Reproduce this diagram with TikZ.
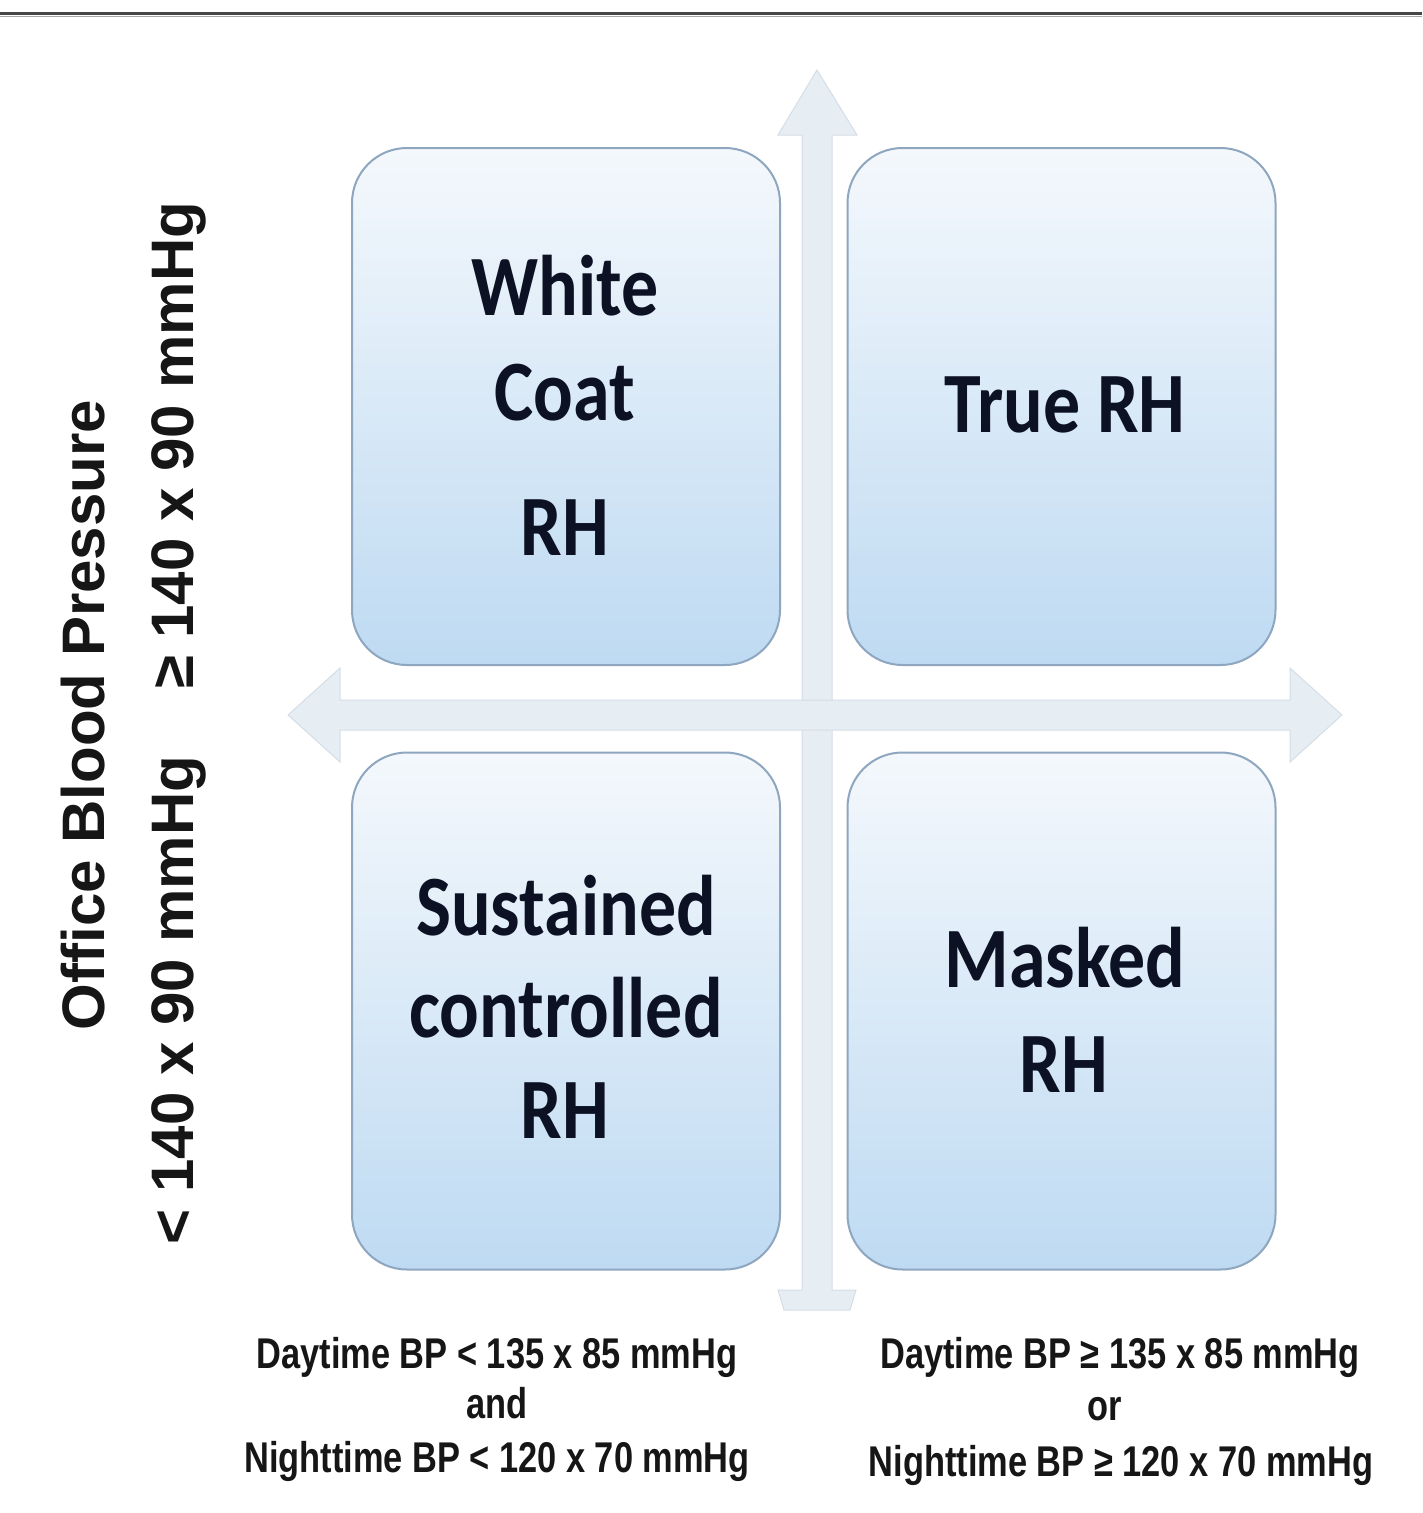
\documentclass[tikz,border=0pt]{standalone}
\usepackage{fontspec}
\setmainfont{Liberation Sans}
\newfontfamily\boxfont{Carlito}
\definecolor{boxtop}{HTML}{F4F8FC}
\definecolor{boxbot}{HTML}{BEDAF2}
\definecolor{boxedge}{HTML}{8EA6BF}
\definecolor{arrowfill}{HTML}{E6EDF3}
\definecolor{arrowedge}{HTML}{D5DEE7}
\definecolor{labeltext}{HTML}{0C1224}
\definecolor{axistext}{HTML}{161616}
\tikzset{
  quad/.style={draw=boxedge, line width=2pt, rounded corners=55pt,
    top color=boxtop, bottom color=boxbot, minimum width=428pt, minimum height=517pt, inner sep=0pt},
  biglabel/.style={anchor=base, text=labeltext, inner sep=0pt,
    font=\boxfont\bfseries\fontsize{86}{90}\selectfont},
  axislabel/.style={anchor=base, text=axistext, inner sep=0pt, rotate=90,
    font=\bfseries\fontsize{60}{64}\selectfont},
  condlabel/.style={anchor=base, text=axistext, inner sep=0pt,
    font=\bfseries\fontsize{43}{46}\selectfont},
  bigarrow/.style={fill=arrowfill, draw=arrowedge, line width=1pt, line join=miter}
}
\newcommand{\sq}[1]{\scalebox{0.86}[1]{#1}}
\newcommand{\sqc}[1]{\scalebox{0.8}[1]{#1}}
\begin{document}
\begin{tikzpicture}[x=1pt,y=-1pt]
\useasboundingbox (0,0) rectangle (1422,1513);
\fill[white] (0,0) rectangle (1422,1513);
% top rule
\draw[line width=3pt, color=black!72] (0,13.5) -- (1422,13.5);
\draw[line width=1.2pt, color=black!35] (0,16.5) -- (1422,16.5);
% vertical arrow
\draw[bigarrow] (802,1290) -- (802,135) -- (778,135) -- (817,70) -- (857,135) -- (832,135) -- (832,1290)
  -- (856,1290) -- (850,1310) -- (784,1310) -- (778,1290) -- cycle;
% horizontal arrow
\draw[bigarrow] (288,715) -- (340,668) -- (340,700) -- (1290,700) -- (1290,668) -- (1342,715)
  -- (1290,762) -- (1290,730) -- (340,730) -- (340,762) -- cycle;
% boxes
\node[quad] (wc) at (566,406.5) {};
\node[quad] (tr) at (1061.5,406.5) {};
\node[quad] (sc) at (566,1011) {};
\node[quad] (mr) at (1061.5,1011) {};
% box labels
\node[biglabel] (wc1) at (565,315) {\sq{White}};
\node[biglabel] (wc2) at (565,420) {\sq{Coat}};
\node[biglabel] (wc3) at (565,555) {\sq{RH}};
\node[biglabel] (tr1) at (1065,432) {\sq{True RH}};
\node[biglabel] (sc1) at (566,935) {\sq{Sustained}};
\node[biglabel] (sc2) at (566,1037) {\sq{controlled}};
\node[biglabel] (sc3) at (565,1138) {\sq{RH}};
\node[biglabel] (mr1) at (1065,987) {\sq{Masked}};
\node[biglabel] (mr2) at (1064,1092) {\sq{RH}};
% axis labels
\node[axislabel] (oy) at (104,715) {Office Blood Pressure};
\node[axislabel] (hi) at (193,445) {≥ 140 x 90 mmHg};
\node[axislabel] (lo) at (193,1000) {< 140 x 90 mmHg};
% bottom conditions
\node[condlabel] (d1) at (497,1368) {\sqc{Daytime BP < 135 x 85 mmHg}};
\node[condlabel] (d2) at (497,1418) {\sqc{and}};
\node[condlabel] (d3) at (497,1472) {\sqc{Nighttime BP < 120 x 70 mmHg}};
\node[condlabel] (e1) at (1120,1368) {\sqc{Daytime BP ≥ 135 x 85 mmHg}};
\node[condlabel] (e2) at (1105,1420) {\sqc{or}};
\node[condlabel] (e3) at (1121,1476) {\sqc{Nighttime BP  ≥ 120 x 70 mmHg}};
\end{tikzpicture}
\end{document}
